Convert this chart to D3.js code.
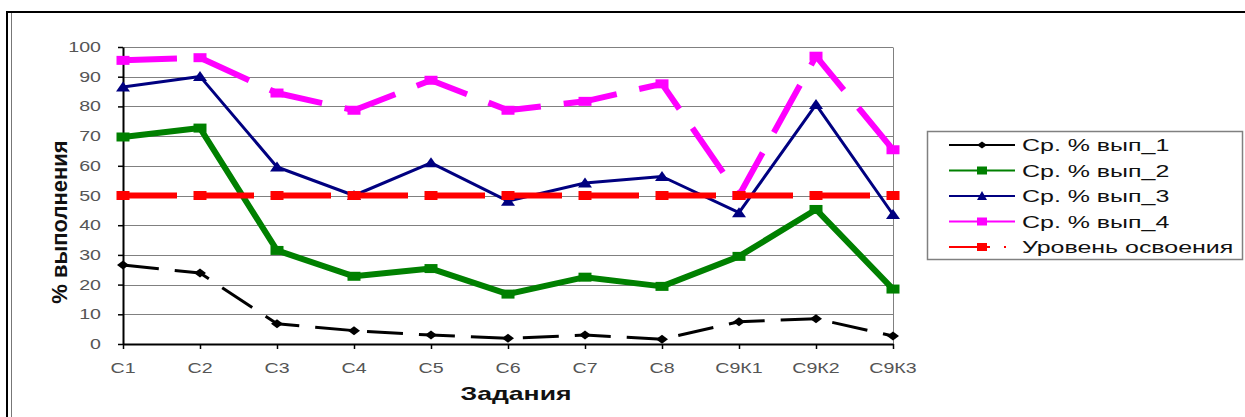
<!DOCTYPE html>
<html><head><meta charset="utf-8">
<script src="https://cdn.jsdelivr.net/npm/d3@7"></script>
<style>
html,body{margin:0;padding:0;background:#fff;}
svg{display:block;font-family:Arial,"Liberation Sans",sans-serif;}
</style></head>
<body>
<svg id="chart" width="1245" height="417"></svg>
<script>
// ---- data ----
const categories = ["С1","С2","С3","С4","С5","С6","С7","С8","С9К1","С9К2","С9К3"];
const vyp1 = [26.6, 23.9, 6.8, 4.5, 3.0, 1.9, 3.0, 1.6, 7.5, 8.5, 2.7];
const vyp2 = [69.7, 72.7, 31.5, 22.8, 25.4, 16.8, 22.5, 19.4, 29.5, 45.3, 18.5];
const vyp3 = [86.5, 90.1, 59.6, 50.0, 61.0, 48.1, 54.2, 56.4, 44.2, 80.6, 43.6];
const vyp4 = [95.5, 96.4, 84.5, 78.7, 88.8, 78.7, 81.7, 87.6, 50.0, 96.9, 65.4];
const level = [50, 50, 50, 50, 50, 50, 50, 50, 50, 50, 50];
const seriesNames = ["Ср. % вып_1","Ср. % вып_2","Ср. % вып_3","Ср. % вып_4","Уровень освоения"];
const yTicks = [0,10,20,30,40,50,60,70,80,90,100];
const xTitle = "Задания";
const yTitle = "% выполнения";

// ---- styles ----
const series = [
  {name: seriesNames[0], values: vyp1, color:"#000000", width:3, dash:"36,16", marker:"diamond"},
  {name: seriesNames[1], values: vyp2, color:"#008000", width:6, dash:null, marker:"square"},
  {name: seriesNames[2], values: vyp3, color:"#000080", width:3, dash:null, marker:"triangle"},
  {name: seriesNames[3], values: vyp4, color:"#FF00FF", width:6, dash:"54,23", marker:"square"},
  {name: seriesNames[4], values: level, color:"#FF0000", width:6, dash:"54,23", marker:"square"}
];
const SX = 1.4; // horizontal text stretch

const svg = d3.select("#chart");
const x = d3.scalePoint().domain(categories).range([123, 893]).padding(0);
const y = d3.scaleLinear().domain([0, 100]).range([344, 47]);

// outer frame
svg.append("rect").attr("x",0).attr("y",0).attr("width",1245).attr("height",417).attr("fill","#fff");
svg.append("line").attr("x1",6).attr("x2",1245).attr("y1",12).attr("y2",12).attr("stroke","#000").attr("stroke-width",2);
svg.append("line").attr("x1",7).attr("x2",7).attr("y1",11).attr("y2",417).attr("stroke","#000").attr("stroke-width",2);
svg.append("line").attr("x1",11.5).attr("x2",11.5).attr("y1",13).attr("y2",417).attr("stroke","#777").attr("stroke-width",1);

// gridlines
svg.append("g").selectAll("line").data(yTicks.filter(d=>d>0)).join("line")
  .attr("x1",123).attr("x2",893)
  .attr("y1",d=>Math.round(y(d))+0.5).attr("y2",d=>Math.round(y(d))+0.5)
  .attr("stroke","#808080").attr("stroke-width",1);
// plot right border
svg.append("line").attr("x1",893.5).attr("x2",893.5).attr("y1",Math.round(y(100))+0.5).attr("y2",344)
  .attr("stroke","#808080").attr("stroke-width",1);

function stretchText(sel, sx){
  sel.each(function(){
    const t = d3.select(this);
    const tx = +t.attr("data-x"), ty = +t.attr("data-y");
    t.attr("transform", `translate(${tx},${ty}) scale(${sx},1)`);
  });
}

// y axis
const yAxis = svg.append("g").attr("transform","translate(123,0)")
  .call(d3.axisLeft(y).tickValues(yTicks).tickSize(5).tickSizeOuter(0).tickFormat(d3.format("d")));
yAxis.select(".domain").attr("stroke","#000").attr("stroke-width",2);
yAxis.selectAll(".tick line").attr("stroke","#000").attr("stroke-width",1.5);
yAxis.selectAll(".tick text").remove();
svg.append("g").selectAll("text").data(yTicks).join("text")
  .attr("data-x",101).attr("data-y",d=>y(d)+5)
  .attr("text-anchor","end").attr("font-size",14).attr("fill","#555")
  .text(d=>d).call(stretchText, SX);

// x axis
const xAxis = svg.append("g").attr("transform","translate(0,344)")
  .call(d3.axisBottom(x).tickSize(5).tickSizeOuter(0));
xAxis.select(".domain").attr("stroke","#000").attr("stroke-width",2);
xAxis.selectAll(".tick line").attr("stroke","#000").attr("stroke-width",1.5);
xAxis.selectAll(".tick text").remove();
svg.append("g").selectAll("text").data(categories).join("text")
  .attr("data-x",d=>x(d)).attr("data-y",373)
  .attr("text-anchor","middle").attr("font-size",14).attr("fill","#555")
  .text(d=>d).call(stretchText, SX);

// titles
svg.append("text").attr("data-x",516).attr("data-y",400)
  .attr("text-anchor","middle").attr("font-size",17.5).attr("font-weight","bold").attr("fill","#111")
  .text(xTitle).call(stretchText, 1.52);
svg.append("text")
  .attr("transform","translate(67,222) rotate(-90)")
  .attr("text-anchor","middle").attr("font-size",22).attr("font-weight","bold").attr("fill","#111")
  .text(yTitle);

// markers
function markerPath(type, w, h){
  const hw=w/2, hh=h/2;
  if(type==="square") return `M${-hw},${-hh}H${hw}V${hh}H${-hw}Z`;
  if(type==="diamond") return `M0,${-hh}L${hw},0L0,${hh}L${-hw},0Z`;
  if(type==="triangle") return `M0,${-hh-1}L${hw},${hh}L${-hw},${hh}Z`;
}
const line = d3.line().x((d,i)=>x(categories[i])).y(d=>y(d));

series.forEach(s=>{
  const g = svg.append("g");
  g.append("path").datum(s.values).attr("d",line)
    .attr("fill","none").attr("stroke",s.color).attr("stroke-width",s.width)
    .attr("stroke-dasharray",s.dash).attr("stroke-linejoin","round");
  const mw = s.marker==="triangle"?14:(s.marker==="diamond"?12:13);
  const mh = 9;
  g.selectAll("path.m").data(s.values).join("path").attr("class","m")
    .attr("transform",(d,i)=>`translate(${x(categories[i])},${y(d)})`)
    .attr("d",markerPath(s.marker,mw,mh)).attr("fill",s.color);
});

// legend
const lg = svg.append("g");
lg.append("rect").attr("x",927.5).attr("y",131.5).attr("width",315).attr("height",128)
  .attr("fill","#fff").attr("stroke","#808080").attr("stroke-width",1.5);
const rowY = d3.scalePoint().domain(seriesNames).range([145,247]);
series.forEach((s,i)=>{
  const cy = rowY(s.name);
  if(i===4){
    lg.append("line").attr("x1",949).attr("x2",990).attr("y1",cy).attr("y2",cy).attr("stroke",s.color).attr("stroke-width",2);
    lg.append("rect").attr("x",1004).attr("y",cy-1).attr("width",2).attr("height",2).attr("fill",s.color);
  } else {
    lg.append("line").attr("x1",949).attr("x2",1015).attr("y1",cy).attr("y2",cy).attr("stroke",s.color).attr("stroke-width",2);
  }
  lg.append("path").attr("transform",`translate(982,${cy})`)
    .attr("d",markerPath(s.marker, 10, s.marker==="diamond"?7:8)).attr("fill",s.color);
  lg.append("text").attr("data-x",1022).attr("data-y",cy+6)
    .attr("font-size",16).attr("fill","#111").text(s.name).call(stretchText, 1.56);
});
</script>
</body></html>
